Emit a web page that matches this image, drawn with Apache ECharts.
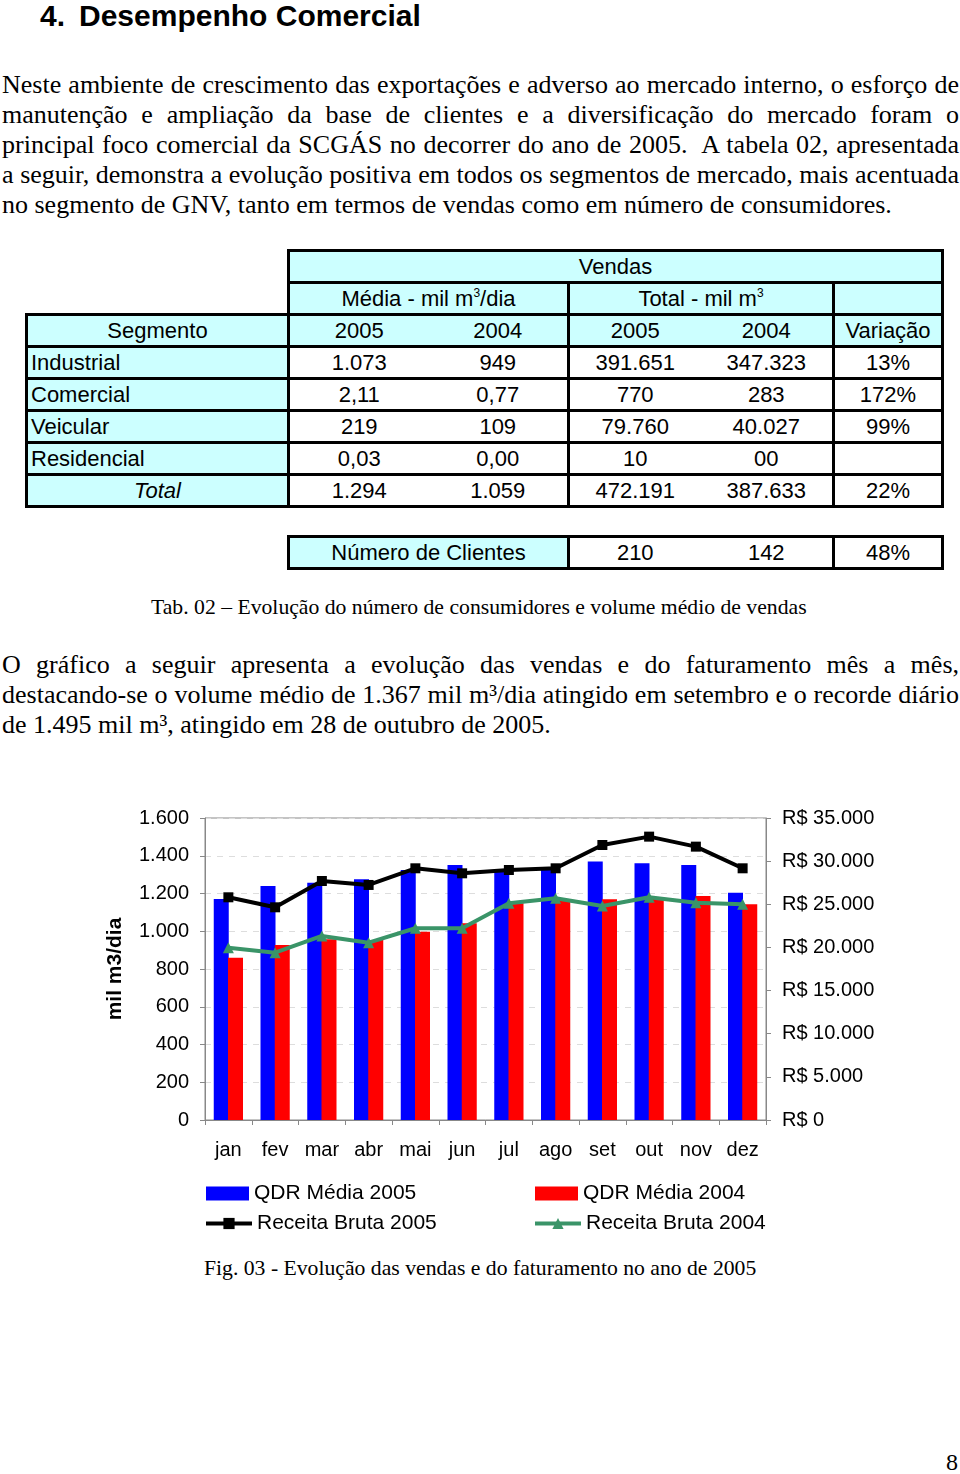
<!DOCTYPE html>
<html>
<head>
<meta charset="utf-8">
<script src="https://cdn.jsdelivr.net/npm/echarts@6/dist/echarts.min.js"></script>
<style>
  html, body { margin: 0; padding: 0; background: #fff; }
  #page { position: relative; width: 960px; height: 1474px; overflow: hidden; color: #000; }
  .abs { position: absolute; white-space: nowrap; }
  .title { font-family: "Liberation Sans", Arial, sans-serif; font-weight: bold; font-size: 30px; line-height: 32px; }
  .para { position: absolute; left: 2px; width: 957px; font-family: "Liberation Serif", "Times New Roman", serif; font-size: 26px; line-height: 30px; }
  .para div { white-space: nowrap; }
  .para div.j { text-align: justify; text-align-last: justify; white-space: normal; }
  .cap { font-family: "Liberation Serif", "Times New Roman", serif; font-size: 21.7px; line-height: 24px; }
  table.t { position: absolute; border-collapse: collapse; table-layout: fixed; font-family: "Liberation Sans", Arial, sans-serif; font-size: 22px; }
  table.t td { border: 3px solid #000; padding: 0; text-align: center; height: 29px; line-height: 29px; overflow: hidden; white-space: nowrap; }
  table.t td.c { background: #ccffff; }
  table.t td.b { border: none; background: transparent; }
  table.t td.l { text-align: left; padding-left: 3px; }
  table.t td.nr { border-right: none; }
  table.t td.nl { border-left: none; }
  table.t sup { font-size: 12px; line-height: 0; vertical-align: 9px; }
  #chart { position: absolute; left: 0; top: 790px; width: 960px; height: 460px; }
</style>
</head>
<body>
<div id="page">
  <div class="abs title" style="left:40px; top:0px;">4.</div>
  <div class="abs title" style="left:79px; top:0px;">Desempenho Comercial</div>

  <div class="para" style="top:70px;">
    <div class="j">Neste ambiente de crescimento das exportações e adverso ao mercado interno, o esforço de</div>
    <div class="j">manutenção e ampliação da base de clientes e a diversificação do mercado foram o</div>
    <div class="j">principal foco comercial da SCGÁS no decorrer do ano de 2005.&nbsp; A tabela 02, apresentada</div>
    <div class="j">a seguir, demonstra a evolução positiva em todos os segmentos de mercado, mais acentuada</div>
    <div>no segmento de GNV, tanto em termos de vendas como em número de consumidores.</div>
  </div>

  <table class="t" style="left:25px; top:249px; width:916px;">
    <colgroup><col style="width:262px"><col style="width:140px"><col style="width:140px"><col style="width:132px"><col style="width:133px"><col style="width:109px"></colgroup>
    <tr><td class="b"></td><td class="c" colspan="5">Vendas</td></tr>
    <tr><td class="b"></td><td class="c" colspan="2">Média - mil m<sup>3</sup>/dia</td><td class="c" colspan="2">Total - mil m<sup>3</sup></td><td class="c"></td></tr>
    <tr><td class="c">Segmento</td><td class="c nr">2005</td><td class="c nl">2004</td><td class="c nr">2005</td><td class="c nl">2004</td><td class="c">Variação</td></tr>
    <tr><td class="c l">Industrial</td><td class="nr">1.073</td><td class="nl">949</td><td class="nr">391.651</td><td class="nl">347.323</td><td>13%</td></tr>
    <tr><td class="c l">Comercial</td><td class="nr">2,11</td><td class="nl">0,77</td><td class="nr">770</td><td class="nl">283</td><td>172%</td></tr>
    <tr><td class="c l">Veicular</td><td class="nr">219</td><td class="nl">109</td><td class="nr">79.760</td><td class="nl">40.027</td><td>99%</td></tr>
    <tr><td class="c l">Residencial</td><td class="nr">0,03</td><td class="nl">0,00</td><td class="nr">10</td><td class="nl">00</td><td></td></tr>
    <tr><td class="c"><i>Total</i></td><td class="nr">1.294</td><td class="nl">1.059</td><td class="nr">472.191</td><td class="nl">387.633</td><td>22%</td></tr>
  </table>

  <table class="t" style="left:287px; top:535px; width:654px;">
    <colgroup><col style="width:280px"><col style="width:132px"><col style="width:133px"><col style="width:109px"></colgroup>
    <tr><td class="c">Número de Clientes</td><td class="nr">210</td><td class="nl">142</td><td>48%</td></tr>
  </table>

  <div class="abs cap" style="left:151px; top:595px;">Tab. 02 – Evolução do número de consumidores e volume médio de vendas</div>

  <div class="para" style="top:650px;">
    <div class="j">O gráfico a seguir apresenta a evolução das vendas e do faturamento mês a mês,</div>
    <div class="j">destacando-se o volume médio de 1.367 mil m³/dia atingido em setembro e o recorde diário</div>
    <div>de 1.495 mil m³, atingido em 28 de outubro de 2005.</div>
  </div>

  <div id="chart"></div>

  <div class="abs cap" style="left:204px; top:1256px;">Fig. 03 - Evolução das vendas e do faturamento no ano de 2005</div>
  <div class="abs" style="left:946px; top:1448px; font-family:'Liberation Serif',serif; font-size:24px; line-height:28px;">8</div>
</div>

<script>
// ---- data ----
const months = ['jan', 'fev', 'mar', 'abr', 'mai', 'jun', 'jul', 'ago', 'set', 'out', 'nov', 'dez'];
const qdrMedia2005 = [1171, 1240, 1257, 1275, 1325, 1351, 1316, 1328, 1369, 1360, 1351, 1204];
const qdrMedia2004 = [860, 927, 957, 954, 998, 1042, 1148, 1166, 1169, 1174, 1187, 1143];
const receitaBruta2005 = [25810, 24650, 27700, 27240, 29170, 28590, 28975, 29170, 31870, 32840, 31680, 29170];
const receitaBruta2004 = [19970, 19390, 21330, 20550, 22220, 22220, 25120, 25700, 24800, 25810, 25190, 25000];
const seriesNames = ['QDR Média 2005', 'QDR Média 2004', 'Receita Bruta 2005', 'Receita Bruta 2004'];
const leftAxisTitle = 'mil m3/dia';

function fmt(v) { return String(v).replace(/\B(?=(\d{3})+(?!\d))/g, '.'); }

const FONT = '"Liberation Sans", Arial, sans-serif';
const chart = echarts.init(document.getElementById('chart'), null, { renderer: 'canvas' });

const legendBase = {
  textStyle: { fontFamily: FONT, fontSize: 21, color: '#000' },
  itemHeight: 14,
  padding: 0,
  selectedMode: false
};

chart.setOption({
  animation: false,
  grid: { left: 205, width: 561, top: 28, height: 302, show: true, borderColor: '#888', borderWidth: 1, containLabel: false },
  legend: [
    Object.assign({}, legendBase, { data: [{ name: seriesNames[0], icon: 'rect' }], left: 206, top: 393, itemWidth: 43 }),
    Object.assign({}, legendBase, { data: [{ name: seriesNames[1], icon: 'rect' }], left: 535, top: 393, itemWidth: 43 }),
    Object.assign({}, legendBase, { data: [seriesNames[2]], left: 204, top: 423, itemWidth: 46, lineStyle: { width: 4 } }),
    Object.assign({}, legendBase, { data: [seriesNames[3]], left: 533, top: 423, itemWidth: 46, lineStyle: { width: 4 } })
  ],
  xAxis: {
    type: 'category',
    data: months,
    boundaryGap: true,
    axisLine: { show: true, lineStyle: { color: '#888', width: 1 } },
    axisTick: { show: true, length: 5, lineStyle: { color: '#888' } },
    axisLabel: { interval: 0, fontFamily: FONT, fontSize: 20, color: '#000', margin: 20 }
  },
  yAxis: [
    {
      type: 'value', min: 0, max: 1600, interval: 200,
      name: leftAxisTitle, nameLocation: 'middle', nameRotate: 90, nameGap: 79,
      nameTextStyle: { fontFamily: FONT, fontSize: 21, fontWeight: 'bold', color: '#000' },
      axisLine: { show: true, lineStyle: { color: '#888', width: 1 } },
      axisTick: { show: true, length: 5, lineStyle: { color: '#888' } },
      splitLine: { show: true, lineStyle: { color: '#ddd', type: [6, 6], width: 1 } },
      axisLabel: { fontFamily: FONT, fontSize: 20, color: '#000', margin: 16, formatter: fmt }
    },
    {
      type: 'value', min: 0, max: 35000, interval: 5000, position: 'right',
      axisLine: { show: true, lineStyle: { color: '#888', width: 1 } },
      axisTick: { show: true, length: 5, lineStyle: { color: '#888' } },
      splitLine: { show: false },
      axisLabel: { fontFamily: FONT, fontSize: 20, color: '#000', margin: 16, formatter: v => 'R$ ' + fmt(v) }
    }
  ],
  series: [
    { name: seriesNames[0], type: 'bar', data: qdrMedia2005, barWidth: 15, barGap: '-5%', itemStyle: { color: '#0000ff' } },
    { name: seriesNames[1], type: 'bar', data: qdrMedia2004, barWidth: 15, barGap: '-5%', itemStyle: { color: '#ff0000' } },
    { name: seriesNames[2], type: 'line', yAxisIndex: 1, data: receitaBruta2005, symbol: 'rect', symbolSize: 10,
      itemStyle: { color: '#000' }, lineStyle: { color: '#000', width: 4 }, z: 4 },
    { name: seriesNames[3], type: 'line', yAxisIndex: 1, data: receitaBruta2004, symbol: 'triangle', symbolSize: 11,
      itemStyle: { color: '#3a9468' }, lineStyle: { color: '#3a9468', width: 4 }, z: 3 }
  ]
});
</script>
</body>
</html>
